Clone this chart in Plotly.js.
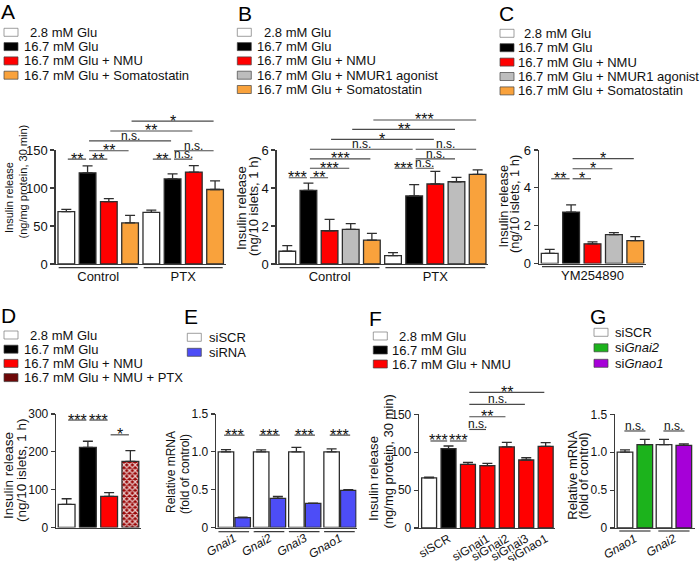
<!DOCTYPE html>
<html><head><meta charset="utf-8">
<script src="https://cdn.plot.ly/plotly-3.0.1.min.js"></script>
<style>html,body{margin:0;padding:0;background:#fff}#chart{width:700px;height:561px}</style>
</head><body><div id="chart"></div>
<script>
// ================= DATA =================
// Panel A
const legendA = ['2.8 mM Glu', '16.7 mM Glu', '16.7 mM Glu + NMU', '16.7 mM Glu + Somatostatin'];
const groupsA = ['Control', 'PTX'];
const controlA = [69, 120, 82, 54];
const controlErrA = [3, 9, 4, 10];
const ptxA = [68, 112, 121, 98];
const ptxErrA = [3, 6.5, 8.5, 11.5];
const sigA = [[0,1,138,'**'],[1,2,138,'**'],[1,3,149,'**'],[1,5,162,'n.s.'],[2,6,175,'**'],[3,7,188,'*'],[4,5,138,'**'],[5,6,138,'n.s.'],[5,7,149,'n.s.']];
// Panel B
const legendB = ['2.8 mM Glu', '16.7 mM Glu', '16.7 mM Glu + NMU', '16.7 mM Glu + NMUR1 agonist', '16.7 mM Glu + Somatostatin'];
const groupsB = ['Control', 'PTX'];
const controlB = [0.67, 3.88, 1.75, 1.82, 1.26];
const controlErrB = [0.3, 0.38, 0.6, 0.3, 0.35];
const ptxB = [0.44, 3.58, 4.21, 4.33, 4.72];
const ptxErrB = [0.16, 0.6, 0.67, 0.23, 0.23];
const sigB = [[0,1,4.54,'***'],[1,2,4.54,'**'],[1,3,5.04,'***'],[1,4,5.53,'***'],[1,6,6.04,'n.s.'],[2,7,6.56,'*'],[3,8,7.09,'**'],[4,9,7.58,'***'],[5,6,5.04,'***'],[6,7,5.04,'n.s.'],[6,8,5.53,'n.s.'],[6,9,6.04,'n.s.']];
// Panel C
const legendC = ['2.8 mM Glu', '16.7 mM Glu', '16.7 mM Glu + NMU', '16.7 mM Glu + NMUR1 agonist', '16.7 mM Glu + Somatostatin'];
const groupsC = ['YM254890'];
const ymC = [0.53, 2.72, 1.04, 1.53, 1.21];
const ymErrC = [0.22, 0.38, 0.1, 0.1, 0.21];
const sigC = [[0,1,4.48,'**'],[1,2,4.48,'*'],[1,3,5.01,'*'],[1,4,5.54,'*']];
// Panel D
const legendD = ['2.8 mM Glu', '16.7 mM Glu', '16.7 mM Glu + NMU', '16.7 mM Glu + NMU + PTX'];
const valuesD = [61, 212, 82.5, 175];
const errD = [15, 16, 9.6, 28];
const sigD = [[0,1,284,'***'],[1,2,284,'***'],[2,3,245,'*']];
// Panel E
const legendE = ['siSCR', 'siRNA'];
const genesE = ['Gnai1', 'Gnai2', 'Gnai3', 'Gnao1'];
const siSCR_E = [1.0, 1.0, 1.0, 1.0];
const siSCR_E_err = [0.03, 0.025, 0.06, 0.04];
const siRNA_E = [0.13, 0.384, 0.318, 0.49];
const siRNA_E_err = [0.008, 0.026, 0.004, 0.01];
const sigE = [[0,1.22,'***'],[1,1.22,'***'],[2,1.22,'***'],[3,1.22,'***']];
// Panel F
const legendF = ['2.8 mM Glu', '16.7 mM Glu', '16.7 mM Glu + NMU'];
const conditionF = [0, 1, 2, 2, 2, 2, 2];
const valuesF = [66, 104.7, 84, 82.3, 107, 89.7, 107.8];
const errF = [1, 3.5, 2.7, 3, 6, 3, 4.8];
const labelPosF = [1, 3, 4, 5, 6];
const labelsF = ['siSCR', 'siGnai1', 'siGnai2', 'siGnai3', 'siGnao1'];
const sigF = [[0,1,114.8,'***'],[1,2,114.8,'***'],[2,3,130,'n.s.'],[2,4,146.8,'**'],[2,5,163,'n.s.'],[2,6,179,'**']];
// Panel G
const legendG = ['siSCR', 'si<i>Gnai2</i>', 'si<i>Gnao1</i>'];
const genesG = ['Gnao1', 'Gnai2'];
const siSCR_G = [1.0, 1.10];
const siSCR_G_err = [0.03, 0.07];
const siKD_G = [1.10, 1.09];
const siKD_G_err = [0.07, 0.02];
const sigG = [[0,1.28,'n.s.'],[1,1.28,'n.s.']];

// ================= STYLE / LAYOUT =================
const WHITE='#ffffff', BLACK='#000000', RED='#ff0000', ORANGE='#f9a23c', GRAY='#bdbdbd', BLUE='#4d4df7', GREEN='#1cb31c', PURPLE='#a600d8', DARKRED='#9a0606', CHECK='#6e0808';
const colorsA = [WHITE, BLACK, RED, ORANGE];
const colorsB = [WHITE, BLACK, RED, GRAY, ORANGE];
const colorsD = [WHITE, BLACK, RED, DARKRED];
const patternD = ['', '', '', 'x'];
const colorsF = [WHITE, BLACK, RED];
const kdColorsG = [GREEN, PURPLE];
const FONT = 'Liberation Sans, Arial, Helvetica, sans-serif';
const AX = '#3a3a3a', OUT = '#2e2e2e', SIGC = '#4a4a4a', TXT = '#111111';
const LEGFS = 13;
const W = 700, H = 561;
const px2x = p => p / W;
const px2y = p => 1 - p / H;

const geo = {
  A:{ax:'',  x0:55.7,  x1:225.7, yb:264,   yt:150,   xr:[-0.5,7.5],  ymax:150, tv:[0,50,100,150], tt:['0','50','100','150'], fs:13},
  B:{ax:'2', x0:276.7, x1:488.2, yb:264,   yt:150,   xr:[-0.5,9.5],  ymax:6,   tv:[0,2,4,6], tt:['0','2','4','6'], fs:13},
  C:{ax:'3', x0:539,   x1:646,   yb:263.5, yt:150,   xr:[-0.5,4.5],  ymax:6,   tv:[0,2,4,6], tt:['0','2','4','6'], fs:13},
  D:{ax:'4', x0:56,    x1:141,   yb:527.5, yt:414,   xr:[-0.5,3.5],  ymax:300, tv:[0,100,200,300], tt:['0','100','200','300'], fs:12},
  E:{ax:'5', x0:216,   x1:356.5, yb:527.5, yt:414,   xr:[-0.52,3.47],ymax:1.5, tv:[0,0.5,1,1.5], tt:['0','0.5','1.0','1.5'], fs:12},
  F:{ax:'6', x0:419,   x1:555,   yb:528,   yt:414.3, xr:[-0.52,6.48],ymax:150, tv:[0,50,100,150], tt:['0','50','100','150'], fs:12},
  G:{ax:'7', x0:615,   x1:695,   yb:528,   yt:414.3, xr:[-0.51,1.54],ymax:1.5, tv:[0,0.5,1,1.5], tt:['0','0.5','1.0','1.5'], fs:12}
};
const xName = p => 'x' + p.ax, yName = p => 'y' + p.ax;
const yPaper = (p, v) => px2y(p.yb) + v / p.ymax * (px2y(p.yt) - px2y(p.yb));

const layout = {width:W, height:H, margin:{l:0,r:0,t:0,b:0}, paper_bgcolor:'#fff', plot_bgcolor:'rgba(0,0,0,0)',
  showlegend:false, barmode:'overlay', font:{family:FONT, color:TXT}, shapes:[], annotations:[]};
const traces = [];

function axes(p, xopts) {
  layout['xaxis' + p.ax] = Object.assign({domain:[px2x(p.x0), px2x(p.x1)], range:p.xr, anchor:yName(p), showline:true, linecolor:AX, linewidth:1.3,
    ticks:'', showgrid:false, zeroline:false, fixedrange:true, tickfont:{family:FONT, size:13, color:TXT}}, xopts);
  layout['yaxis' + p.ax] = {domain:[px2y(p.yb), px2y(p.yt)], range:[0, p.ymax], anchor:xName(p), showline:true, linecolor:AX, linewidth:1.3,
    ticks:'outside', ticklen:4, tickwidth:1.2, tickcolor:AX, tickmode:'array', tickvals:p.tv, ticktext:p.tt, showgrid:false, zeroline:false,
    fixedrange:true, tickfont:{family:FONT, size:p.fs, color:TXT}};
}
function bars(p, y, err, colors, width, extra) {
  const x = extra && extra.x ? extra.x : y.map((_, i) => i);
  const t = {type:'bar', x:x, y:y, xaxis:xName(p), yaxis:yName(p), width:width, hoverinfo:'skip',
    marker:{color:colors, line:{color:OUT, width:1.3}},
    error_y:{type:'data', array:err, arrayminus:err.map(() => 0), symmetric:false, color:OUT, thickness:1.3, width:5}};
  if (extra) { if (extra.offset !== undefined) t.offset = extra.offset; if (extra.pattern) t.marker.pattern = extra.pattern; }
  traces.push(t);
}
function sigLine(p, x0, x1, lv, lab) {
  const y = yPaper(p, lv);
  layout.shapes.push({type:'line', xref:xName(p), yref:'paper', x0:x0, x1:x1, y0:y, y1:y, line:{color:SIGC, width:1.2}});
  const star = lab.indexOf('*') >= 0;
  layout.annotations.push({xref:xName(p), yref:'paper', x:(x0 + x1) / 2, y:y, text:lab, showarrow:false, xanchor:'center', yanchor:'middle',
    yshift: star ? 0 : 5, font:{family:FONT, size: star ? 16 : 12, color:TXT}});
}
function underline(p, a, b, ypx) {
  layout.shapes.push({type:'line', xref:xName(p), yref:'paper', x0:a, x1:b, y0:px2y(ypx), y1:px2y(ypx), line:{color:AX, width:1.2}});
}
function legend(rows, colors, sx, y0, dy, tx, firstShift) {
  rows.forEach((r, i) => {
    const cy = y0 + i * dy;
    layout.shapes.push({type:'rect', xref:'paper', yref:'paper', x0:px2x(sx), x1:px2x(sx + 14), y0:px2y(cy - 4), y1:px2y(cy + 4),
      fillcolor:colors[i], line:{color: colors[i] === WHITE ? '#777' : '#444', width:0.7}});
    layout.annotations.push({xref:'paper', yref:'paper', x:px2x(tx + (i === 0 ? firstShift : 0)), y:px2y(cy), text:r, showarrow:false,
      xanchor:'left', yanchor:'middle', font:{family:FONT, size:LEGFS, color:TXT}});
  });
}
function letter(t, x, ytop) {
  layout.annotations.push({xref:'paper', yref:'paper', x:px2x(x - 1), y:px2y(ytop - 5), text:t, showarrow:false, xanchor:'left', yanchor:'top',
    font:{family:FONT, size:21, color:'#000'}});
}
function ytitle(t, cx, cy, size) {
  layout.annotations.push({xref:'paper', yref:'paper', x:px2x(cx), y:px2y(cy), text:t, showarrow:false, textangle:-90, xanchor:'center', yanchor:'middle',
    font:{family:FONT, size:size, color:TXT}});
}
const rotTicks = {tickangle:-30, ticklabelstandoff:-2, tickfont:{family:FONT, size:12, color:TXT}};

// ---- Panel A ----
const gA = geo.A;
axes(gA, {tickmode:'array', tickvals:groupsA.map((_, g) => g * controlA.length + (controlA.length - 1) / 2), ticktext:groupsA});
bars(gA, controlA.concat(ptxA), controlErrA.concat(ptxErrA), colorsA.concat(colorsA), 0.785);
sigA.forEach(s => sigLine(gA, s[0] + 0.07, s[1] - 0.07, s[2], s[3]));
groupsA.forEach((_, g) => underline(gA, g * 4 - 0.36, g * 4 + 3 + 0.36, 267.7));
legend(legendA, colorsA, 4, 32.3, 14.3, 21.7, 6.5);
letter('A', 0, 3);
ytitle('Insulin release', 9, 198, 11);
ytitle('(ng/mg protein, 30 min)', 22.5, 182, 11);

// ---- Panel B ----
const gB = geo.B;
axes(gB, {tickmode:'array', tickvals:groupsB.map((_, g) => g * controlB.length + (controlB.length - 1) / 2), ticktext:groupsB});
bars(gB, controlB.concat(ptxB), controlErrB.concat(ptxErrB), colorsB.concat(colorsB), 0.79);
sigB.forEach(s => sigLine(gB, s[0] + 0.07, s[1] - 0.07, s[2], s[3]));
groupsB.forEach((_, g) => underline(gB, g * 5 - 0.36, g * 5 + 4 + 0.36, 267.7));
legend(legendB, colorsB, 237.3, 32.3, 14.3, 255, 6.5);
letter('B', 236.7, 5);
ytitle('Insulin release', 241, 208, 13);
ytitle('(ng/10 islets, 1 h)', 253, 206, 13);

// ---- Panel C ----
const gC = geo.C;
axes(gC, {tickmode:'array', tickvals:[(ymC.length - 1) / 2], ticktext:groupsC});
bars(gC, ymC, ymErrC, colorsB, 0.785);
sigC.forEach(s => sigLine(gC, s[0] + 0.07, s[1] - 0.07, s[2], s[3]));
underline(gC, -0.36, ymC.length - 1 + 0.36, 266.7);
legend(legendC, colorsB, 500, 33.3, 14.4, 516, 5.7);
letter('C', 498, 5);
ytitle('Insulin release', 502.5, 206, 12.8);
ytitle('(ng/10 islets, 1 h)', 514, 204, 12.8);

// ---- Panel D ----
const gD = geo.D;
axes(gD, {showticklabels:false});
bars(gD, valuesD, errD, colorsD, 0.79, {pattern:{shape:patternD, fillmode:'overlay', fgcolor:valuesD.map(() => '#000000'), fgopacity:0.8, size:4, solidity:0.5}});
sigD.forEach(s => sigLine(gD, s[0] + 0.07, s[1] - 0.07, s[2], s[3]));
legend(legendD, [WHITE, BLACK, RED, CHECK], 4, 335, 14.2, 21.7, 6.5);
letter('D', 0, 307);
ytitle('Insulin release', 8, 476, 13.5);
ytitle('(ng/10 islets, 1 h)', 21, 470, 13.5);

// ---- Panel E ----
const gE = geo.E;
axes(gE, Object.assign({tickmode:'array', tickvals:genesE.map((_, i) => i), ticktext:genesE.map(s => '<i>' + s + '</i>')}, rotTicks));
bars(gE, siSCR_E, siSCR_E_err, WHITE, 0.44, {x:genesE.map((_, i) => i), offset:-0.457});
bars(gE, siRNA_E, siRNA_E_err, BLUE, 0.44, {x:genesE.map((_, i) => i), offset:0.017});
sigE.forEach(s => sigLine(gE, s[0] - 0.29, s[0] + 0.29, s[1], s[2]));
genesE.forEach((_, i) => underline(gE, i - 0.45, i + 0.42, 531.7));
legend(legendE, [WHITE, BLUE], 187.3, 337.3, 15, 206.7, 0);
letter('E', 183.3, 308.3);
ytitle('Relative mRNA', 171, 472, 12);
ytitle('(fold of control)', 185, 474, 12);

// ---- Panel F ----
const gF = geo.F;
axes(gF, Object.assign({tickmode:'array', tickvals:labelPosF, ticktext:labelsF}, rotTicks));
bars(gF, valuesF, errF, conditionF.map(c => colorsF[c]), 0.77);
sigF.forEach(s => sigLine(gF, s[0] + 0.07, s[1] - 0.07, s[2], s[3]));
legend(legendF, colorsF, 373.3, 336, 14, 390, 6.7);
letter('F', 368, 310);
ytitle('Insulin release', 373, 478, 13.2);
ytitle('(ng/mg protein, 30 min)', 387.5, 462, 13);

// ---- Panel G ----
const gG = geo.G;
axes(gG, Object.assign({tickmode:'array', tickvals:genesG.map((_, i) => i), ticktext:genesG.map(s => '<i>' + s + '</i>')}, rotTicks));
bars(gG, siSCR_G, siSCR_G_err, WHITE, 0.40, {x:genesG.map((_, i) => i), offset:-0.454});
bars(gG, siKD_G, siKD_G_err, kdColorsG, 0.40, {x:genesG.map((_, i) => i), offset:0.054});
sigG.forEach(s => sigLine(gG, s[0] - 0.27, s[0] + 0.27, s[1], s[2]));
genesG.forEach((_, i) => underline(gG, i - 0.4, i + 0.4, 531));
legend(legendG, [WHITE, GREEN, PURPLE], 594, 332.3, 15.5, 612.7, 0);
letter('G', 589, 308);
ytitle('Relative mRNA', 571.7, 475, 13);
ytitle('(fold of control)', 583, 476, 13);

Plotly.newPlot('chart', traces, layout, {displayModeBar:false, staticPlot:true});
</script>
</body></html>
